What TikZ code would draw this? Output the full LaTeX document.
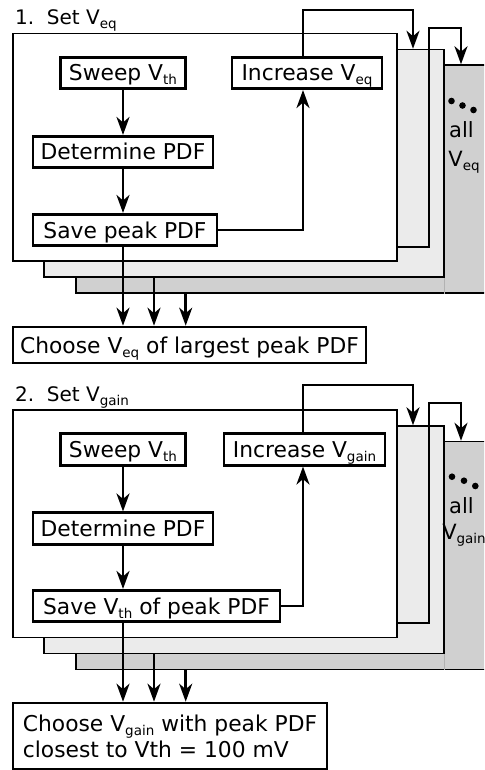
\documentclass[tikz,border=0pt]{standalone}
\usepackage{fontspec}
\setmainfont{DejaVu Sans}
\usetikzlibrary{arrows.meta,calc}
\newcommand\lowsub[1]{\raisebox{-4pt}{\fontsize{13.5}{13.5}\selectfont #1}}
\definecolor{panelB}{HTML}{EBEBEB}
\definecolor{panelC}{HTML}{D0D0D0}
\begin{document}
\begin{tikzpicture}[x=1pt,y=-1pt,
  panel/.style={draw=black, line width=1.5pt, inner sep=0pt, rectangle},
  box/.style={draw, line width=2.6pt, fill=white, inner sep=0pt, minimum height=31.5pt,
    text height=17pt, text depth=1pt, font=\fontsize{21.8}{26}\selectfont},
  arr/.style={line width=2.5pt, -{Stealth[length=18pt,width=13pt,inset=5.5pt]}},
  lbl/.style={anchor=base west, inner sep=0pt, font=\fontsize{20}{24}\selectfont},
  side/.style={anchor=base, inner sep=0pt, font=\fontsize{21}{24}\selectfont},
  faint/.style={draw=gray!60, line width=0.8pt}]
\useasboundingbox (0,0) rectangle (484,770);
\clip (0,0) rectangle (484,770);
\fill[white] (0,0) rectangle (484,770);

% ---------------- Panel 1 ----------------
\node[panel, fill=panelC, minimum width=424pt, minimum height=228pt] (C1) at (288,179) {};
\node[panel, fill=panelB, minimum width=400pt, minimum height=227.5pt] (B1) at (244,163.25) {};
\draw[faint] (B1.south east) -- (B1.south east |- C1.south);
\node[panel, fill=white, minimum width=384pt, minimum height=227.5pt] (A1) at (205,147.25) {};
\node[lbl] (L1) at (15,25) {1.\ \ Set V\lowsub{eq}};

\node[box, minimum width=125.5pt] (sw1) at (123,73) {Sweep V\lowsub{th}};
\node[box, minimum width=150pt] (in1) at (307,73) {Increase V\lowsub{eq}};
\node[box, minimum width=180pt] (de1) at (123,152) {Determine PDF};
\node[box, minimum width=184pt] (sa1) at (125,230) {Save peak PDF};
\node[box, minimum width=353pt, minimum height=36pt] (ch1) at (189.5,345) {Choose V\lowsub{eq} of largest peak PDF};

\fill (451.5,101) circle (3.3pt);
\fill (462.5,105.5) circle (3.3pt);
\fill (473.5,110) circle (3.3pt);
\node[side] (all1) at (461.5,138) {all};
\node[side] (v1) at (464,166.5) {V\lowsub{eq}};

\draw[arr] (sw1) -- (de1);
\draw[arr] (de1.south) -- (de1.south |- sa1.north);
\draw[arr] (sa1.east) -| ([xshift=-4pt]in1.south);
\draw[arr] ([xshift=-4pt]in1.north) -- ++(0,-46) -| ([xshift=169pt]B1.north);
\draw[arr] (A1.east |- sa1.south) -- ++(31,0) -- ++(0,-219) -| ([xshift=173pt]C1.north);
\draw[arr] (sa1.south -| de1) -- (ch1.north -| de1);
\draw[arr] ([xshift=-90pt]B1.south) -- ([xshift=-90pt]B1.south |- ch1.north);
\draw[arr] ([xshift=-102.3pt]C1.south) -- ([xshift=-102.3pt]C1.south |- ch1.north);

% ---------------- Panel 2 ----------------
\node[panel, fill=panelC, minimum width=424pt, minimum height=228pt] (C2) at (288,555.5) {};
\node[panel, fill=panelB, minimum width=400pt, minimum height=227.5pt] (B2) at (244,539.75) {};
\draw[faint] (B2.south east) -- (B2.south east |- C2.south);
\node[panel, fill=white, minimum width=384pt, minimum height=227.5pt] (A2) at (205,523.75) {};
\node[lbl] (L2) at (15,401.5) {2.\ \ Set V\lowsub{gain}};

\node[box, minimum width=125.5pt] (sw2) at (123,449.5) {Sweep V\lowsub{th}};
\node[box, minimum width=161pt] (in2) at (304.5,449.5) {Increase V\lowsub{gain}};
\node[box, minimum width=180pt] (de2) at (123,528.5) {Determine PDF};
\node[box, minimum width=247pt] (sa2) at (156.5,606) {Save V\lowsub{th} of peak PDF};
\node[draw, line width=2.6pt, fill=white, inner sep=0pt, align=left, minimum width=314pt,
  minimum height=66pt, font=\fontsize{21.8}{26}\selectfont] (ch2) at (170,736)
  {Choose V\lowsub{gain} with peak PDF\\closest to Vth = 100 mV};

\fill (452,476.7) circle (3.3pt);
\fill (464,480.7) circle (3.3pt);
\fill (475.3,486) circle (3.3pt);
\node[side] (all2) at (461.5,513) {all};
\node[side] (v2) at (464,539) {V\lowsub{gain}};

\draw[arr] (sw2) -- (de2);
\draw[arr] (de2.south) -- (de2.south |- sa2.north);
\draw[arr] (sa2.east) -| ([xshift=-1.5pt]in2.south);
\draw[arr] ([xshift=-1.5pt]in2.north) -- ++(0,-47.3) -| ([xshift=169pt]B2.north);
\draw[arr] (A2.east |- sa2.south) -- ++(31,0) -- ++(0,-220) -| ([xshift=173pt]C2.north);
\draw[arr] (sa2.south -| de2) -- (ch2.north -| de2);
\draw[arr] ([xshift=-90pt]B2.south) -- ([xshift=-90pt]B2.south |- ch2.north);
\draw[arr] ([xshift=-102.3pt]C2.south) -- ([xshift=-102.3pt]C2.south |- ch2.north);
\end{tikzpicture}
\end{document}
